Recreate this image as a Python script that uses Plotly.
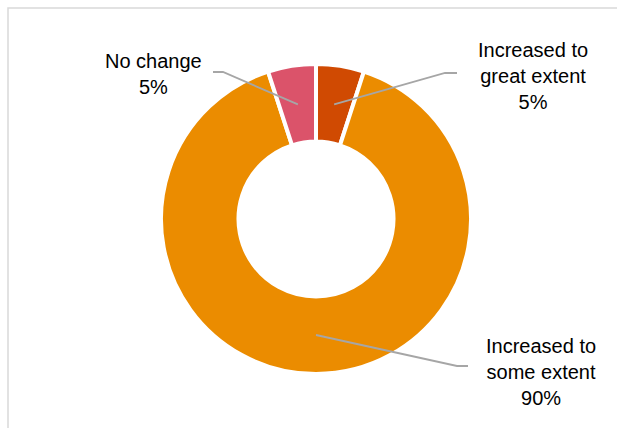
import math
import plotly.graph_objects as go

labels = ["Increased to great extent", "Increased to some extent", "No change"]
label_text = ["Increased to<br>great extent", "Increased to<br>some extent", "No change"]
values = [5, 90, 5]
colors = ["#D04A02", "#EB8C00", "#DB536A"]

W, H = 617, 428
cx, cy, R = 316, 219, 155
hole = 0.5

def px(x):
    return x / W

def py(y):
    return 1 - y / H

fig = go.Figure(go.Pie(
    labels=labels, values=values, hole=hole, sort=False,
    direction="clockwise", rotation=0,
    marker=dict(colors=colors, line=dict(color="white", width=4)),
    textinfo="none", hoverinfo="label+percent", showlegend=False,
    domain=dict(x=[px(cx - R), px(cx + R)], y=[py(cy + R), py(cy - R)]),
))

# label placement (layout): elbow point, end of horizontal, text center
label_layout = [
    dict(elbow=(445, 73), end=(457, 73), text=(533, 76)),
    dict(elbow=(457, 366), end=(468, 366), text=(541, 372)),
    dict(elbow=(223, 72), end=(213, 72), text=(153, 74)),
]

total = sum(values)
cum = 0
shapes = [dict(type="rect", xref="paper", yref="paper",
               x0=px(8), y0=-0.1, x1=1.1, y1=py(8),
               line=dict(color="#D9D9D9", width=1.5), fillcolor="rgba(0,0,0,0)")]
annotations = []
r_mid = 116
for v, t, lay in zip(values, label_text, label_layout):
    mid = (cum + v / 2) / total * 2 * math.pi
    cum += v
    sx = cx + r_mid * math.sin(mid)
    sy = cy - r_mid * math.cos(mid)
    ex, ey = lay["elbow"]
    fx, fy = lay["end"]
    path = f"M {px(sx)},{py(sy)} L {px(ex)},{py(ey)} L {px(fx)},{py(fy)}"
    shapes.append(dict(type="path", xref="paper", yref="paper", path=path,
                       line=dict(color="#A6A6A6", width=1.8)))
    tx, ty = lay["text"]
    pct = f"{round(v / total * 100)}%"
    annotations.append(dict(xref="paper", yref="paper", x=px(tx), y=py(ty),
                            text=f"{t}<br>{pct}", showarrow=False,
                            xanchor="center", yanchor="middle", align="center",
                            font=dict(family="Liberation Sans, Arial", size=20, color="#000000")))

fig.update_layout(
    width=W, height=H, margin=dict(l=0, r=0, t=0, b=0),
    paper_bgcolor="white", plot_bgcolor="white",
    shapes=shapes, annotations=annotations,
)

fig.write_html("out.html")
